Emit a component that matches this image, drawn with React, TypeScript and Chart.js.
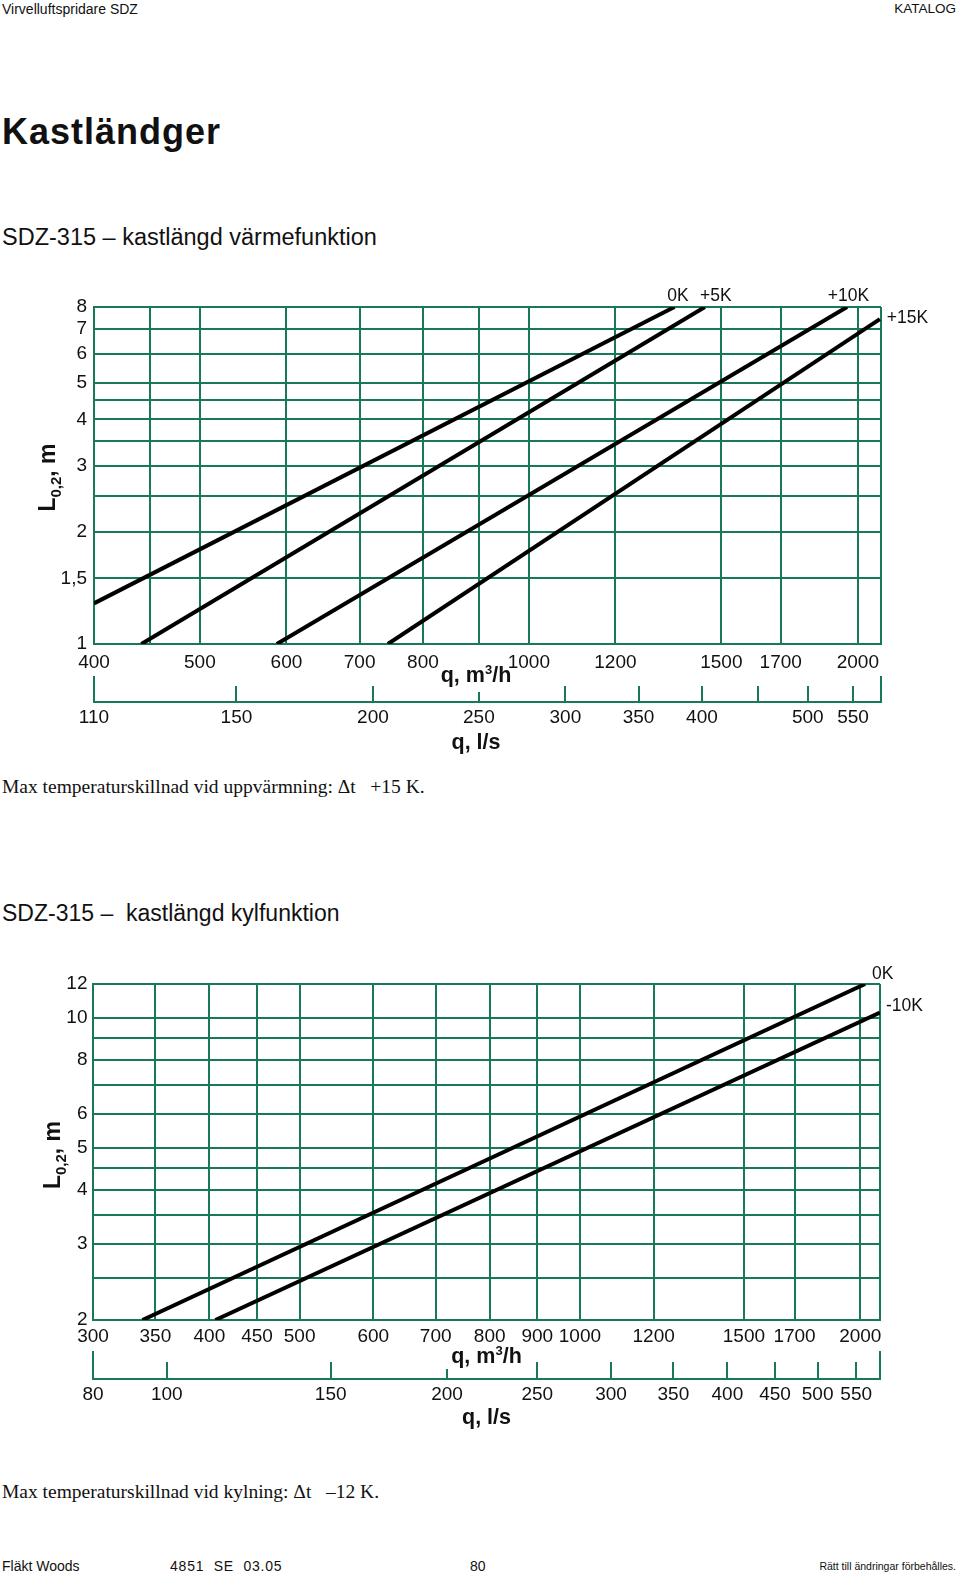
import React, { useEffect, useRef } from "react";
import { Chart, registerables } from "chart.js";

Chart.register(...registerables);

const FONT = '"Liberation Sans", Arial, Helvetica, sans-serif';
const SERIF = '"Liberation Serif", "Times New Roman", serif';
const GREEN = "#17785a";
const INK = "#111111";
const M3H_PER_LS = 3.6;

// ---------------- Chart 1: kastlängd värmefunktion ----------------
const heatRangeQ = [400, 2100];
const heatRangeL = [1, 8];
const heatQTicks = [400, 450, 500, 600, 700, 800, 900, 1000, 1200, 1500, 1700, 2000, 2100];
const heatQLabels = ["400", "", "500", "600", "700", "800", "", "1000", "1200", "1500", "1700", "2000", ""];
const heatLTicks = [1, 1.5, 2, 2.5, 3, 3.5, 4, 4.5, 5, 6, 7, 8];
const heatLLabels = ["1", "1,5", "2", "", "3", "", "4", "", "5", "6", "7", "8"];
const heatLsTicks = [110, 150, 200, 250, 300, 350, 400, 450, 500, 550];
const heatLsLabels = ["110", "150", "200", "250", "300", "350", "400", "", "500", "550"];
const heatNames = ["0K", "+5K", "+10K", "+15K"];
const heat0KQ = [400, 1359];
const heat0KL = [1.285, 8];
const heat5KQ = [442, 1449];
const heat5KL = [1, 8];
const heat10KQ = [588, 1955];
const heat10KL = [1, 8];
const heat15KQ = [743, 2095];
const heat15KL = [1, 7.42];

// ---------------- Chart 2: kastlängd kylfunktion ----------------
const coolRangeQ = [300, 2100];
const coolRangeL = [2, 12];
const coolQTicks = [300, 350, 400, 450, 500, 600, 700, 800, 900, 1000, 1200, 1500, 1700, 2000, 2100];
const coolQLabels = ["300", "350", "400", "450", "500", "600", "700", "800", "900", "1000", "1200", "1500", "1700", "2000", ""];
const coolLTicks = [2, 2.5, 3, 3.5, 4, 4.5, 5, 6, 7, 8, 9, 10, 12];
const coolLLabels = ["2", "", "3", "", "4", "", "5", "6", "", "8", "", "10", "12"];
const coolLsTicks = [80, 100, 150, 200, 250, 300, 350, 400, 450, 500, 550];
const coolLsLabels = ["80", "100", "150", "200", "250", "300", "350", "400", "450", "500", "550"];
const coolNames = ["0K", "-10K"];
const cool0KQ = [339, 2024];
const cool0KL = [2, 12];
const cool10KQ = [406, 2100];
const cool10KL = [2, 10.3];

// ---------------- specs built from the arrays ----------------
const heatSpec = {
  rangeQ: heatRangeQ,
  rangeL: heatRangeL,
  qTicks: heatQTicks,
  qLabels: heatQLabels,
  lTicks: heatLTicks,
  lLabels: heatLLabels,
  lsTicks: heatLsTicks,
  lsLabels: heatLsLabels,
  series: [
    { name: heatNames[0], q: heat0KQ, l: heat0KL },
    { name: heatNames[1], q: heat5KQ, l: heat5KL },
    { name: heatNames[2], q: heat10KQ, l: heat10KL },
    { name: heatNames[3], q: heat15KQ, l: heat15KL },
  ],
};

const coolSpec = {
  rangeQ: coolRangeQ,
  rangeL: coolRangeL,
  qTicks: coolQTicks,
  qLabels: coolQLabels,
  lTicks: coolLTicks,
  lLabels: coolLLabels,
  lsTicks: coolLsTicks,
  lsLabels: coolLsLabels,
  series: [
    { name: coolNames[0], q: cool0KQ, l: cool0KL },
    { name: coolNames[1], q: cool10KQ, l: cool10KL },
  ],
};

// layout / style (no data)
const heatStyle = {
  top: 270,
  height: 500,
  padTop: 37,
  padBottom: 8,
  padRight: 79,
  yWidth: 94,
  xHeight: 58,
  x2Height: 60,
  xLabelPad: 7,
  lsLabelPad: 4,
  yLabelPad: 7,
  tick: 16,
  endTick: 26,
  shortTick: 10,
  shortTickValue: 250,
  yTitleDx: 39,
  yTitleDy: 2,
  qTitleDx: -11.5,
  m3hBaseline: -20,
  lsBaseline: 47,
  labelOffsets: [
    [3.5, -11, "center"],
    [11, -11, "center"],
    [1.5, -11, "center"],
    [7, -1, "left"],
  ],
};

const coolStyle = {
  top: 950,
  height: 500,
  padTop: 34,
  padBottom: 11,
  padRight: 80,
  yWidth: 93,
  xHeight: 59,
  x2Height: 60,
  xLabelPad: 5.5,
  lsLabelPad: 4,
  yLabelPad: 5.5,
  tick: 17,
  endTick: 28,
  shortTick: 10,
  shortTickValue: 200,
  yTitleDx: 33,
  yTitleDy: 3,
  qTitleDx: 0,
  m3hBaseline: -16.5,
  lsBaseline: 45,
  labelOffsets: [
    [7, -10, "left"],
    [6, -6, "left"],
  ],
};

type Part = { text: string; size: number; dy: number };

function drawParts(ctx: CanvasRenderingContext2D, parts: Part[], cx: number, baseline: number) {
  let total = 0;
  parts.forEach((p) => {
    ctx.font = `bold ${p.size}px ${FONT}`;
    total += ctx.measureText(p.text).width;
  });
  let x = cx - total / 2;
  ctx.textAlign = "left";
  ctx.textBaseline = "alphabetic";
  ctx.fillStyle = INK;
  parts.forEach((p) => {
    ctx.font = `bold ${p.size}px ${FONT}`;
    ctx.fillText(p.text, x, baseline + p.dy);
    x += ctx.measureText(p.text).width;
  });
}

function makeDecor(st: any) {
  return {
    id: "decor",
    afterDatasetsDraw(chart: any) {
      const ctx = chart.ctx as CanvasRenderingContext2D;
      ctx.save();
      ctx.font = `17.5px ${FONT}`;
      ctx.fillStyle = INK;
      ctx.textBaseline = "middle";
      chart.data.datasets.forEach((ds: any, i: number) => {
        const meta = chart.getDatasetMeta(i);
        const pt = meta.data[meta.data.length - 1];
        const [dx, dy, align] = st.labelOffsets[i];
        ctx.textAlign = align;
        ctx.fillText(ds.label, pt.x + dx, pt.y + dy);
      });
      ctx.restore();
    },
    afterDraw(chart: any) {
      const ctx = chart.ctx as CanvasRenderingContext2D;
      const area = chart.chartArea;
      const x2 = chart.scales.x2;
      ctx.save();
      // l/s tick marks (upwards from the l/s axis line)
      ctx.strokeStyle = GREEN;
      ctx.lineWidth = 2;
      const n = x2.ticks.length;
      x2.ticks.forEach((t: any, i: number) => {
        const px = Math.round(x2.getPixelForValue(t.value));
        let len = st.tick;
        if (i === 0 || i === n - 1) len = st.endTick;
        else if (t.value === st.shortTickValue) len = st.shortTick;
        ctx.beginPath();
        ctx.moveTo(px, x2.top);
        ctx.lineTo(px, x2.top - len);
        ctx.stroke();
      });
      // axis titles
      const cx = (area.left + area.right) / 2 + st.qTitleDx;
      drawParts(
        ctx,
        [
          { text: "q, m", size: 21.5, dy: 0 },
          { text: "3", size: 13, dy: -8 },
          { text: "/h", size: 21.5, dy: 0 },
        ],
        cx,
        x2.top + st.m3hBaseline
      );
      drawParts(ctx, [{ text: "q, l/s", size: 21.5, dy: 0 }], cx, x2.top + st.lsBaseline);
      // y title, rotated
      ctx.translate(area.left - st.yTitleDx, (area.top + area.bottom) / 2 + st.yTitleDy);
      ctx.rotate(-Math.PI / 2);
      drawParts(
        ctx,
        [
          { text: "L", size: 23, dy: 0 },
          { text: "0,2", size: 15, dy: 6 },
          { text: ", m", size: 23, dy: 0 },
        ],
        0,
        0
      );
      ctx.restore();
    },
  };
}

function buildConfig(spec: any, st: any): any {
  const datasets = spec.series.map((s: any) => ({
    label: s.name,
    data: s.q.map((q: number, i: number) => ({ x: q, y: s.l[i] })),
    borderColor: "#000",
    borderWidth: 4,
    borderCapStyle: "butt",
    pointRadius: 0,
    pointHoverRadius: 0,
    tension: 0,
    fill: false,
    xAxisID: "x",
    yAxisID: "y",
  }));
  const tickFont = { size: 19, family: FONT };
  return {
    type: "line",
    data: { datasets },
    options: {
      animation: false,
      responsive: false,
      events: [],
      layout: { padding: { top: st.padTop, bottom: st.padBottom, left: 0, right: st.padRight } },
      plugins: { legend: { display: false }, tooltip: { enabled: false }, title: { display: false } },
      scales: {
        x: {
          type: "logarithmic",
          position: "bottom",
          weight: 0,
          min: spec.rangeQ[0],
          max: spec.rangeQ[1],
          afterBuildTicks: (s: any) => {
            s.ticks = spec.qTicks.map((v: number) => ({ value: v }));
          },
          afterFit: (s: any) => {
            s.height = st.xHeight;
          },
          ticks: {
            autoSkip: false,
            maxRotation: 0,
            minRotation: 0,
            padding: st.xLabelPad,
            color: INK,
            font: tickFont,
            callback: (_v: any, i: number) => spec.qLabels[i] ?? "",
          },
          grid: { color: GREEN, lineWidth: 2, drawTicks: false },
          border: { color: GREEN, width: 2 },
        },
        x2: {
          type: "logarithmic",
          position: "bottom",
          weight: 1,
          min: spec.rangeQ[0] / M3H_PER_LS,
          max: spec.rangeQ[1] / M3H_PER_LS,
          afterBuildTicks: (s: any) => {
            const t = spec.lsTicks.map((v: number) => ({ value: Math.min(Math.max(v, s.min), s.max) }));
            t.push({ value: s.max });
            s.ticks = t;
          },
          afterFit: (s: any) => {
            s.height = st.x2Height;
          },
          ticks: {
            autoSkip: false,
            maxRotation: 0,
            minRotation: 0,
            padding: st.lsLabelPad,
            color: INK,
            font: tickFont,
            callback: (_v: any, i: number) => spec.lsLabels[i] ?? "",
          },
          grid: { color: GREEN, lineWidth: 2, drawTicks: false, drawOnChartArea: false },
          border: { color: GREEN, width: 2 },
        },
        y: {
          type: "logarithmic",
          position: "left",
          min: spec.rangeL[0],
          max: spec.rangeL[1],
          afterBuildTicks: (s: any) => {
            s.ticks = spec.lTicks.map((v: number) => ({ value: v }));
          },
          afterFit: (s: any) => {
            s.width = st.yWidth;
          },
          ticks: {
            autoSkip: false,
            padding: st.yLabelPad,
            color: INK,
            font: tickFont,
            callback: (_v: any, i: number) => spec.lLabels[i] ?? "",
          },
          grid: { color: GREEN, lineWidth: 2, drawTicks: false },
          border: { color: GREEN, width: 2 },
        },
      },
    },
    plugins: [makeDecor(st)],
  };
}

function LogChart({ spec, st }: { spec: any; st: any }) {
  const ref = useRef<HTMLCanvasElement>(null);
  useEffect(() => {
    const chart = new Chart(ref.current as HTMLCanvasElement, buildConfig(spec, st));
    return () => chart.destroy();
  }, []);
  return (
    <canvas
      ref={ref}
      width={960}
      height={st.height}
      style={{ position: "absolute", left: 0, top: st.top, width: 960, height: st.height }}
    />
  );
}

function Txt(props: {
  left?: number;
  right?: number;
  top: number;
  size: number;
  bold?: boolean;
  serif?: boolean;
  ls?: number;
  children: React.ReactNode;
}) {
  return (
    <div
      style={{
        position: "absolute",
        left: props.left,
        right: props.right,
        top: props.top,
        fontSize: props.size,
        lineHeight: 1,
        fontWeight: props.bold ? 700 : 400,
        fontFamily: props.serif ? SERIF : FONT,
        letterSpacing: props.ls ?? 0,
        whiteSpace: "pre",
        color: INK,
      }}
    >
      {props.children}
    </div>
  );
}

export default function App() {
  return (
    <div
      style={{
        position: "absolute",
        left: 0,
        top: 0,
        width: 960,
        height: 1577,
        overflow: "hidden",
        background: "#fff",
      }}
    >
      <Txt left={2} top={2} size={14}>Virvelluftspridare SDZ</Txt>
      <Txt right={4} top={2} size={13.5}>KATALOG</Txt>
      <Txt left={2} top={114} size={36} bold ls={1}>Kastländger</Txt>
      <Txt left={2} top={226} size={23.5}>SDZ-315 – kastlängd värmefunktion</Txt>
      <LogChart spec={heatSpec} st={heatStyle} />
      <Txt left={2} top={776.5} size={19.5} serif>Max temperaturskillnad vid uppvärmning: Δt   +15 K.</Txt>
      <Txt left={2} top={901.5} size={23}>SDZ-315 –  kastlängd kylfunktion</Txt>
      <LogChart spec={coolSpec} st={coolStyle} />
      <Txt left={2} top={1481.5} size={19.5} serif>Max temperaturskillnad vid kylning: Δt   –12 K.</Txt>
      <Txt left={2} top={1559} size={14}>Fläkt Woods</Txt>
      <Txt left={170} top={1559} size={14} ls={0.8}>4851  SE  03.05</Txt>
      <Txt left={470} top={1559} size={14}>80</Txt>
      <Txt right={4} top={1561} size={10.5}>Rätt till ändringar förbehålles.</Txt>
    </div>
  );
}
